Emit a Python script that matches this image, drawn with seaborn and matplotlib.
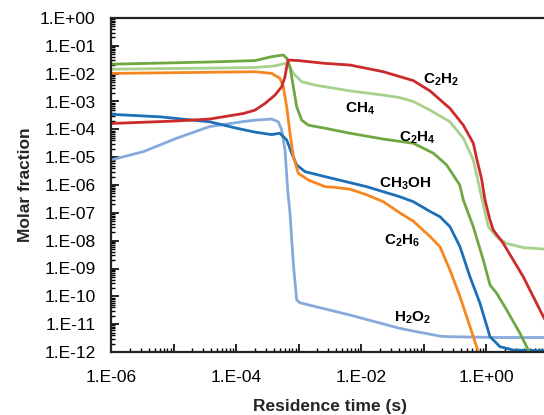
import numpy as np
import pandas as pd
import matplotlib
matplotlib.use("Agg")
import matplotlib.pyplot as plt
import matplotlib.ticker as mticker
from matplotlib import font_manager
import seaborn as sns

# data, stored as log10 values (time in s, molar fraction)
c2h2_t = [-6.0, -4.95, -4.42, -3.88, -3.696, -3.536, -3.376, -3.269, -3.216, -3.189, -3.163, -3.003,
          -2.576, -2.176, -1.643, -1.163, -0.896, -0.576, -0.363, -0.203, -0.149, -0.069, -0.016,
          0.064, 0.117, 0.277, 0.597, 0.917, 1.0]
c2h2_y = [-3.79, -3.70, -3.63, -3.43, -3.31, -3.07, -2.77, -2.47, -2.11, -1.75, -1.51, -1.53,
          -1.63, -1.69, -1.93, -2.25, -2.62, -3.25, -3.85, -4.5, -5.05, -5.8, -6.54,
          -7.26, -7.62, -8.10, -9.30, -10.73, -11.05]

ch4_t = [-6.0, -4.42, -3.696, -3.376, -3.216, -3.163, -3.083, -2.949, -2.736, -2.576, -2.176, -1.643,
         -1.38, -1.163, -0.896, -0.576, -0.363, -0.203, -0.06, 0.037, 0.171, 0.331, 0.597, 0.917, 1.0]
ch4_y = [-1.84, -1.80, -1.78, -1.72, -1.63, -1.69, -1.99, -2.29, -2.41, -2.47, -2.62, -2.77,
         -2.86, -3.0, -3.31, -3.73, -4.32, -5.10, -6.54, -7.5, -7.86, -8.10, -8.25, -8.30, -8.30]

c2h4_t = [-6.0, -4.42, -3.696, -3.429, -3.243, -3.189, -3.136, -3.083, -3.029, -2.949, -2.843, -2.576,
          -2.176, -1.643, -1.163, -0.84, -0.63, -0.42, -0.363, -0.203, -0.043, 0.064, 0.171, 0.331,
          0.544, 0.704, 0.8]
c2h4_y = [-1.66, -1.58, -1.53, -1.39, -1.33, -1.45, -1.75, -2.47, -3.19, -3.67, -3.85, -3.96,
          -4.14, -4.35, -4.50, -4.86, -5.28, -6.0, -6.54, -7.5, -8.70, -9.59, -9.89, -10.49,
          -11.33, -12.05, -12.4]

ch3oh_t = [-6.0, -5.22, -4.42, -3.99, -3.696, -3.429, -3.30, -3.189, -3.109, -3.029, -2.896, -2.576,
           -1.91, -1.38, -1.163, -0.896, -0.736, -0.576, -0.416, -0.256, -0.096, -0.016, 0.064,
           0.224, 0.437, 0.864, 1.0]
ch3oh_y = [-3.46, -3.55, -3.73, -3.96, -4.10, -4.19, -4.14, -4.38, -4.86, -5.28, -5.52, -5.70,
           -6.06, -6.42, -6.6, -6.95, -7.14, -7.5, -8.22, -9.30, -10.25, -10.85, -11.45,
           -11.81, -11.93, -11.95, -11.95]

c2h6_t = [-6.0, -4.42, -3.696, -3.429, -3.296, -3.243, -3.189, -3.136, -3.083, -3.003, -2.843, -2.576,
          -2.44, -2.176, -1.91, -1.643, -1.38, -1.163, -0.896, -0.736, -0.576, -0.416, -0.256,
          -0.123, -0.05]
c2h6_y = [-1.99, -1.95, -1.93, -1.99, -2.17, -2.47, -3.19, -4.14, -4.98, -5.58, -5.82, -6.06,
          -6.08, -6.15, -6.35, -6.6, -7.0, -7.3, -7.85, -8.22, -9.06, -10.01, -11.09,
          -12.0, -12.4]

h2o2_t = [-6.0, -5.48, -4.95, -4.42, -3.88, -3.696, -3.429, -3.323, -3.269, -3.216, -3.173, -3.136,
          -3.083, -3.029, -2.98, -2.18, -1.38, -1.11, -0.736, -0.58, 0.22, 1.0]
h2o2_y = [-5.1, -4.8, -4.32, -3.9, -3.72, -3.67, -3.63, -3.73, -4.02, -4.74, -6.18, -7.02,
          -8.82, -10.13, -10.23, -10.67, -11.15, -11.27, -11.43, -11.45, -11.48, -11.48]

species = ["H2O2", "CH3OH", "C2H6", "CH4", "C2H4", "C2H2"]
colors = {"C2H2": "#CC2B2B", "CH4": "#A8D08D", "C2H4": "#6FA842",
          "CH3OH": "#1D6FB8", "C2H6": "#F7861F", "H2O2": "#85AADB"}
label_text = {"C2H2": r"$\mathbf{C_2H_2}$", "CH4": r"$\mathbf{CH_4}$", "C2H4": r"$\mathbf{C_2H_4}$",
              "CH3OH": r"$\mathbf{CH_3OH}$", "C2H6": r"$\mathbf{C_2H_6}$", "H2O2": r"$\mathbf{H_2O_2}$"}
label_pos = {"C2H2": (-0.72, -2.23), "CH4": (-2.02, -3.27), "C2H4": (-1.10, -4.31),
             "CH3OH": (-1.30, -5.96), "C2H6": (-1.34, -8.01), "H2O2": (-1.17, -10.78)}

series = {"C2H2": (c2h2_t, c2h2_y), "CH4": (ch4_t, ch4_y), "C2H4": (c2h4_t, c2h4_y),
          "CH3OH": (ch3oh_t, ch3oh_y), "C2H6": (c2h6_t, c2h6_y), "H2O2": (h2o2_t, h2o2_y)}

frames = []
for name in species:
    t, y = series[name]
    frames.append(pd.DataFrame({"time": 10.0 ** np.array(t), "frac": 10.0 ** np.array(y), "species": name}))
df = pd.concat(frames, ignore_index=True)

sns.set_style("white")
names = {f.name for f in font_manager.fontManager.ttflist}
base_font = "Liberation Sans" if "Liberation Sans" in names else "DejaVu Sans"
plt.rcParams["font.family"] = [base_font, "DejaVu Sans"]
plt.rcParams["mathtext.fontset"] = "custom"
plt.rcParams["mathtext.bf"] = base_font + ":bold"
plt.rcParams["mathtext.rm"] = base_font

fig = plt.figure(figsize=(5.44, 4.15), dpi=100)
ax = fig.add_axes([111 / 544, 63 / 415, 437.5 / 544, 334 / 415])

sns.lineplot(data=df, x="time", y="frac", hue="species", hue_order=species, palette=colors,
             estimator=None, sort=False, legend=False, linewidth=2.0, ax=ax)

ax.set_xscale("log")
ax.set_yscale("log")
ax.set_xlim(1e-6, 1e1)
ax.set_ylim(1e-12, 1.0)


def sci(v, p):
    return "1.E%+03d" % int(round(np.log10(v)))


def sci_even(v, p):
    e = int(round(np.log10(v)))
    return ("1.E%+03d" % e) if e % 2 == 0 else ""


ax.xaxis.set_major_locator(mticker.LogLocator(base=10, numticks=20))
ax.xaxis.set_major_formatter(mticker.FuncFormatter(sci_even))
ax.xaxis.set_minor_locator(mticker.LogLocator(base=10, subs=np.arange(2, 10), numticks=20))
ax.xaxis.set_minor_formatter(mticker.NullFormatter())
ax.yaxis.set_major_locator(mticker.LogLocator(base=10, numticks=20))
ax.yaxis.set_major_formatter(mticker.FuncFormatter(sci))
ax.yaxis.set_minor_locator(mticker.LogLocator(base=10, subs=np.arange(2, 10), numticks=20))
ax.yaxis.set_minor_formatter(mticker.NullFormatter())

ax.tick_params(which="major", direction="in", length=6, width=1.2, labelsize=12.5, colors="black")
ax.tick_params(which="minor", direction="in", length=3, width=1.0, colors="black")
ax.tick_params(axis="x", which="major", pad=13)
ax.tick_params(axis="y", which="major", pad=11)
ax.tick_params(axis="y", which="both", left=True)
ax.tick_params(axis="x", which="both", bottom=True)
for s in ax.spines.values():
    s.set_color("#222222")
    s.set_linewidth(1.6)

ax.set_xlabel("Residence time (s)", fontsize=12.5, fontweight="bold", labelpad=10)
ax.set_ylabel("Molar fraction", fontsize=12.5, fontweight="bold", labelpad=5)

for name in species:
    lx, ly = label_pos[name]
    ax.text(10 ** lx, 10 ** ly, label_text[name], fontsize=11, ha="center", va="center", color="black")

fig.savefig("out.png", dpi=100)
